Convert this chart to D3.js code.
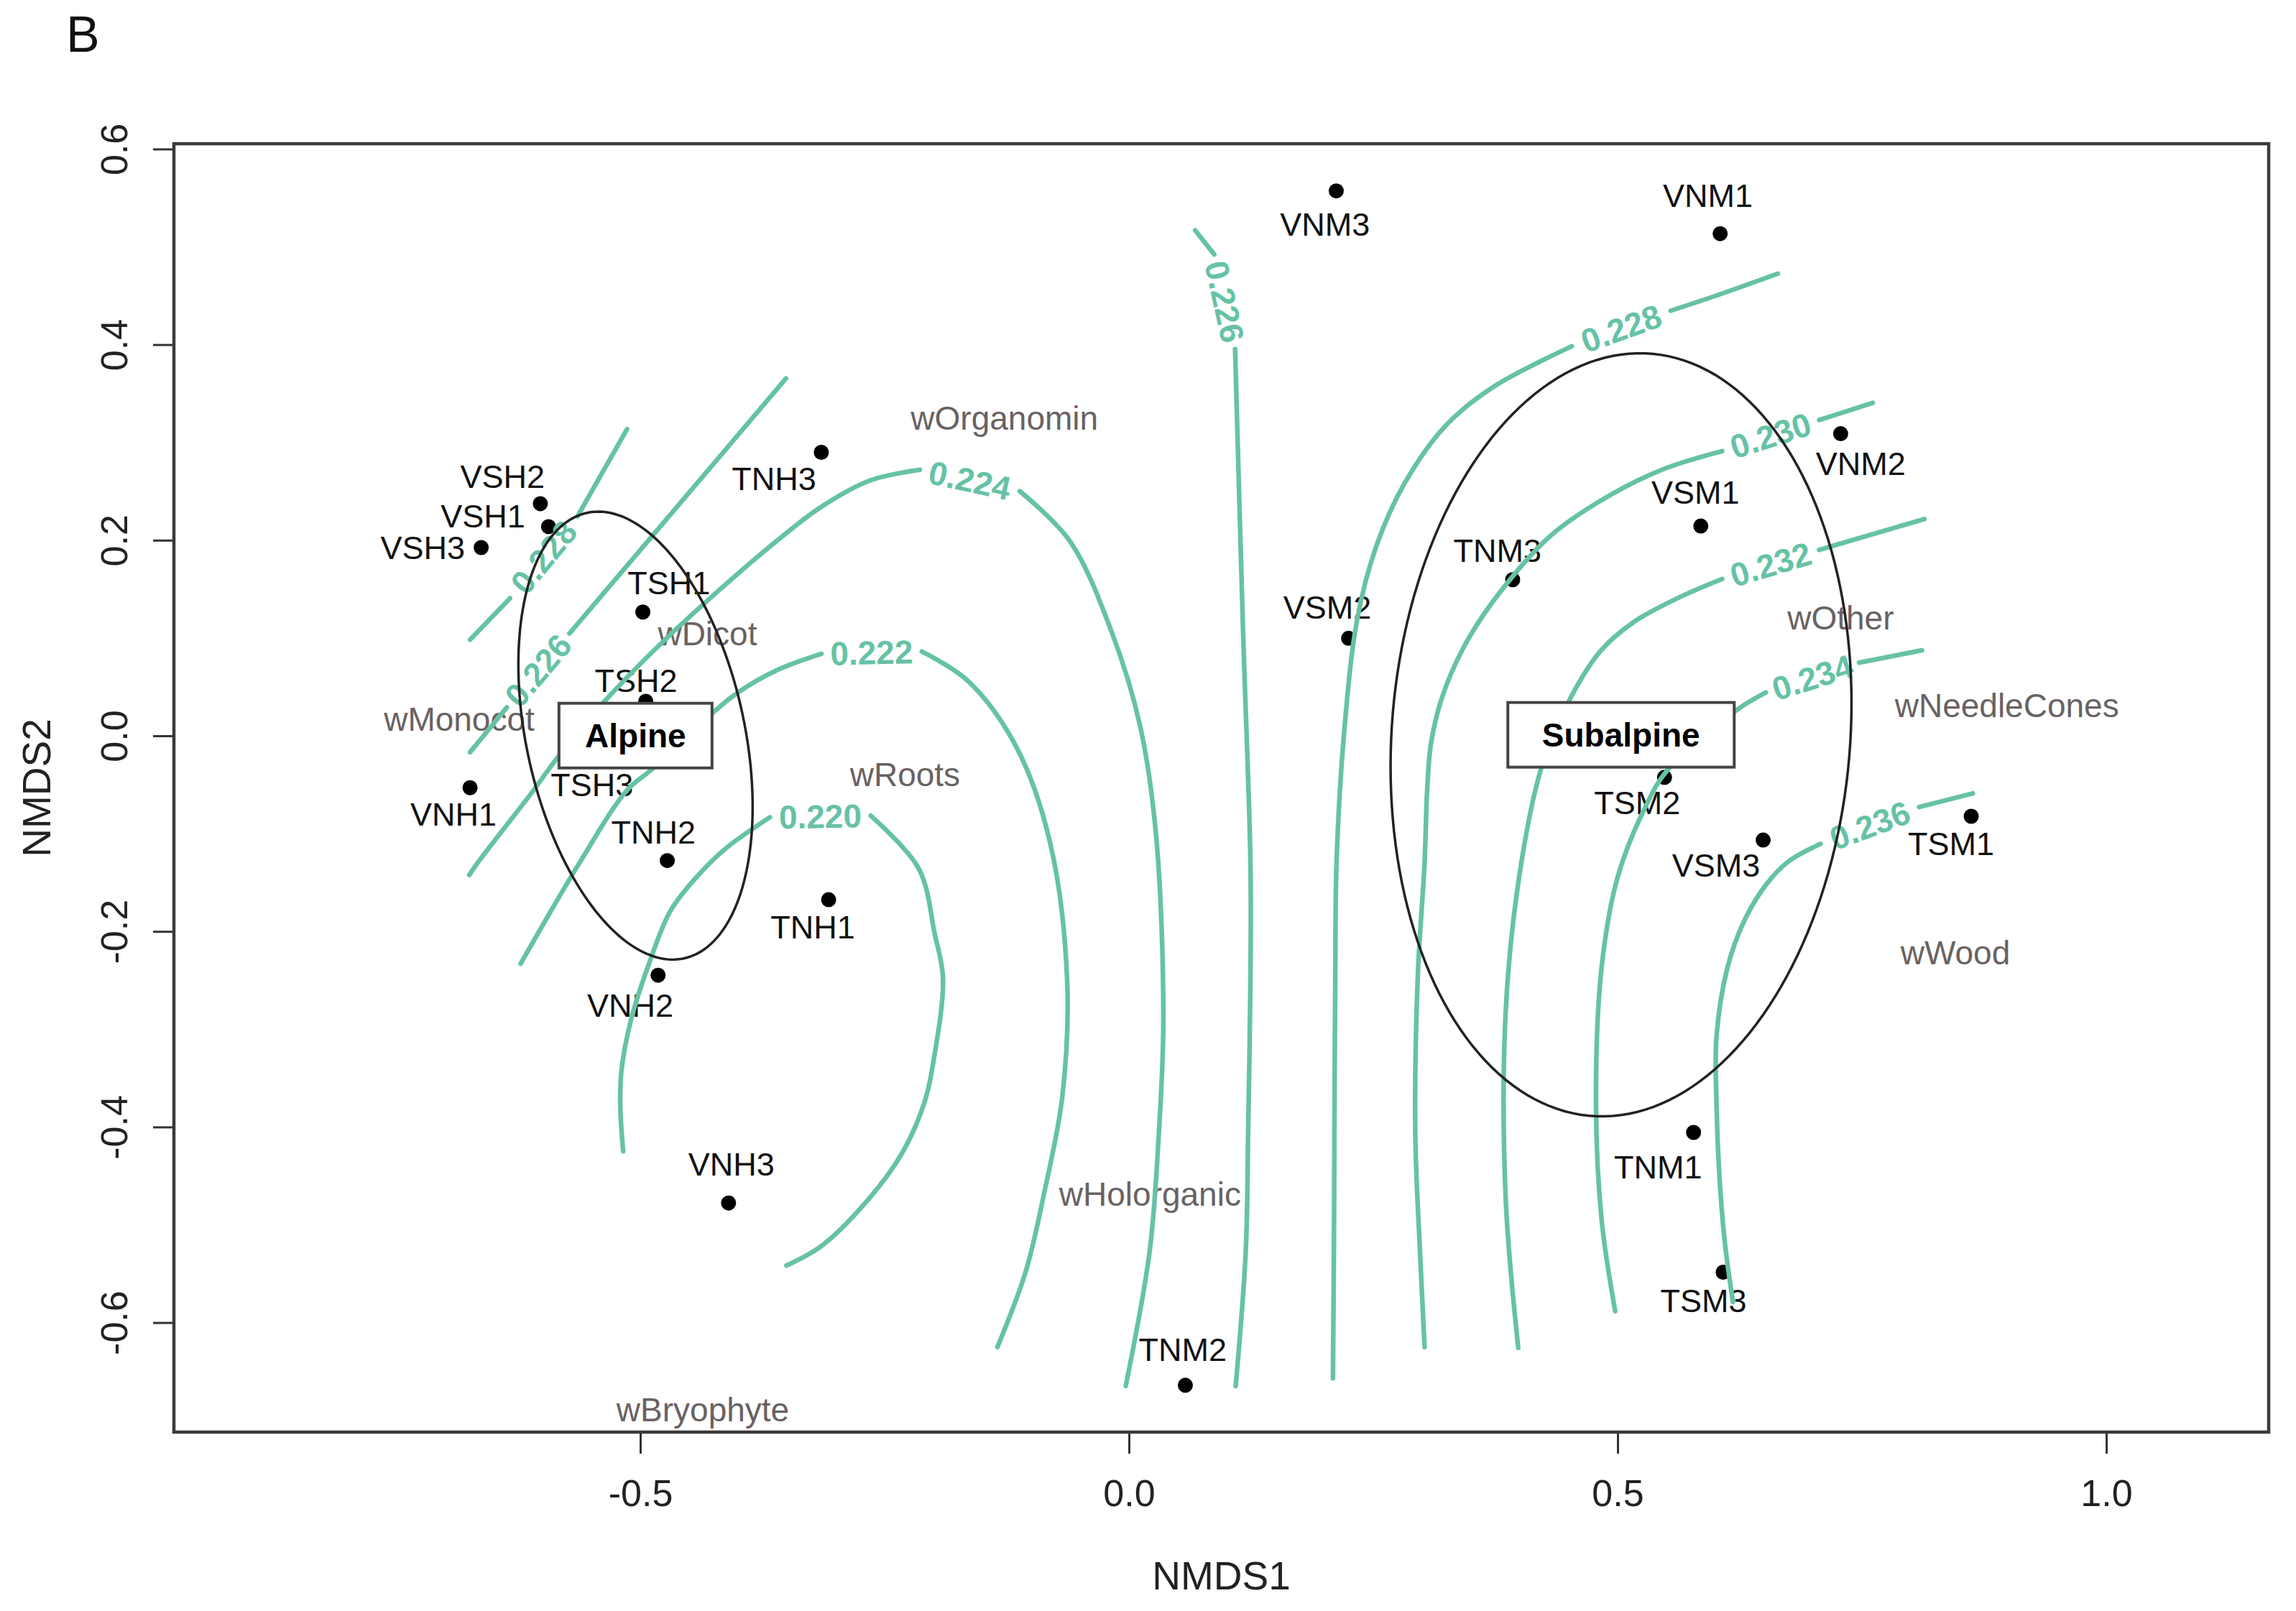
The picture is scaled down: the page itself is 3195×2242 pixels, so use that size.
<!DOCTYPE html>
<html><head><meta charset="utf-8">
<script src="https://cdn.jsdelivr.net/npm/d3@7/dist/d3.min.js"></script>
<style>
html,body{margin:0;padding:0;background:#fff;}
svg{display:block;}
text{font-family:"Liberation Sans", Arial, Helvetica, sans-serif;}
</style>
</head><body>
<svg id="chart" width="3195" height="2242"></svg>
<script>
// ---------------- DATA ----------------
const siteNames = ["VNM3","VNM1","VNM2","VSM1","TNM3","VSM2","TSM2","VSM3","TSM1","TNM1","TSM3","TNM2",
  "VNH3","VNH2","TNH1","TNH2","VNH1","TSH3","TSH2","TSH1","VSH2","VSH1","VSH3","TNH3"];
const siteX = [0.2121,0.6049,0.7282,0.5851,0.3926,0.2247,0.5480,0.6489,0.8618,0.5777,0.6080,0.0577,
  -0.4097,-0.4818,-0.3073,-0.4724,-0.6742,-0.5150,-0.4944,-0.4974,-0.6023,-0.5939,-0.6628,-0.3148];
const siteY = [0.5572,0.5135,0.3089,0.2145,0.1596,0.0997,-0.0425,-0.1066,-0.0823,-0.4056,-0.5485,-0.6641,
  -0.4777,-0.2448,-0.1676,-0.1276,-0.0531,-0.0200,0.0353,0.1266,0.2374,0.2139,0.1925,0.2899];
// label anchor positions (data units) as placed by the point-label routine
const siteLabelX = [0.2006,0.5923,0.7488,0.5796,0.3770,0.2029,0.5200,0.6007,0.8412,0.5413,0.5878,0.0549,
  -0.4067,-0.5103,-0.3235,-0.4866,-0.6911,-0.5495,-0.5044,-0.4707,-0.6410,-0.6611,-0.7226,-0.3632];
const siteLabelY = [0.5227,0.5527,0.2785,0.2490,0.1891,0.1314,-0.0682,-0.1324,-0.1104,-0.4408,-0.5776,-0.6279,
  -0.4384,-0.2760,-0.1959,-0.0989,-0.0799,-0.0504,0.0562,0.1562,0.2653,0.2243,0.1923,0.2628];

const speciesNames = ["wOrganomin","wDicot","wMonocot","wRoots","wHolorganic","wBryophyte","wOther","wNeedleCones","wWood"];
const speciesX = [-0.1274,-0.4313,-0.6853,-0.2291,0.0216,-0.4360,0.7282,0.8983,0.8456];
const speciesY = [0.3251,0.1046,0.0168,-0.0394,-0.4686,-0.6893,0.1204,0.0312,-0.2215];

const groupNames = ["Alpine","Subalpine"];
const groupCenterX = [-0.5049,0.5035];
const groupCenterY = [0.0002,0.0010];
const groupVarX = [0.014365,0.05561];
const groupVarY = [0.05245,0.15222];
const groupCovXY = [-0.008723,0.0076];

const xTicks = [-0.5,0.0,0.5,1.0];
const yTicks = [-0.6,-0.4,-0.2,0.0,0.2,0.4,0.6];

// ordisurf contour pieces [x, y]
const contour220 = [[-0.5175,-0.4249],[-0.5204,-0.3806],[-0.5193,-0.3426],[-0.5099,-0.2920],[-0.4911,-0.2330],[-0.4687,-0.1782],[-0.4386,-0.1402],[-0.4123,-0.1149],[-0.3674,-0.0833],
  [-0.2643,-0.0816],[-0.2150,-0.1360],[-0.1987,-0.2028],[-0.1903,-0.2477],[-0.1993,-0.3285],[-0.2098,-0.3764],[-0.2323,-0.4270],[-0.2661,-0.4734],[-0.3148,-0.5218],[-0.3505,-0.5417]];
const contour222 = [[-0.6224,-0.2330],[-0.5619,-0.1294],[-0.5138,-0.0559],[-0.4888,-0.0348],[-0.4231,0.0259],[-0.4001,0.0443],[-0.3611,0.0667],[-0.3147,0.0838],
  [-0.2120,0.0862],[-0.1648,0.0562],[-0.1154,-0.0111],[-0.0809,-0.1084],[-0.0633,-0.2487],[-0.0681,-0.3682],[-0.0868,-0.4678],[-0.1055,-0.5474],[-0.1346,-0.6251]];
const contour224 = [[-0.6750,-0.1423],[-0.6661,-0.1294],[-0.6094,-0.0559],[-0.5843,-0.0216],[-0.5379,0.0338],[-0.4795,0.0937],[-0.4198,0.1485],[-0.3708,0.1907],[-0.3169,0.2328],[-0.2655,0.2609],[-0.2140,0.2721],
  [-0.1117,0.2501],[-0.0607,0.1994],[-0.0182,0.1076],[0.0114,0.0101],[0.0278,-0.1023],[0.0352,-0.2886],[0.0305,-0.4080],[0.0211,-0.5275],[-0.0033,-0.6649]];
const contour226a = [[-0.6742,-0.0168],[-0.6365,0.0291],[-0.5725,0.1046],[-0.3509,0.3654]];
const contour226b = [[0.0677,0.5169],[0.0873,0.4922],[0.1086,0.3955],[0.1168,0.1058],[0.1243,-0.1294],[0.1243,-0.2487],[0.1219,-0.4080],[0.1195,-0.5275],[0.1092,-0.6649]];
const contour228a = [[-0.6742,0.0982],[-0.6332,0.1407],[-0.5643,0.2244],[-0.5135,0.3136]];
const contour228b = [[0.6640,0.4726],[0.6049,0.4515],[0.5542,0.4346],[0.4532,0.3983],[0.3745,0.3578],[0.3252,0.3184],[0.2827,0.2594],[0.2530,0.1937],[0.2334,0.1184],[0.2202,0.0038],[0.2124,-0.1294],[0.2111,-0.2487],[0.2102,-0.4080],[0.2097,-0.5275],[0.2087,-0.6570]];
const contour230 = [[0.7611,0.3405],[0.7062,0.3229],[0.6070,0.2911],[0.5458,0.2723],[0.4867,0.2428],[0.4317,0.2048],[0.3854,0.1542],[0.3474,0.0994],[0.3221,0.0444],[0.3093,-0.0062],[0.3051,-0.0559],[0.3025,-0.1294],[0.2954,-0.2487],[0.2930,-0.4080],[0.2978,-0.5275],[0.3025,-0.6251]];
const contour232 = [[0.8138,0.2217],[0.7062,0.1901],[0.6070,0.1604],[0.5627,0.1414],[0.5162,0.1161],[0.4824,0.0866],[0.4499,0.0350],[0.4219,-0.0330],[0.3994,-0.1432],[0.3854,-0.2838],[0.3854,-0.4712],[0.3983,-0.6258]];
const contour234 = [[0.8114,0.0874],[0.7470,0.0748],[0.6517,0.0443],[0.6208,0.0256],[0.5507,-0.0354],[0.5284,-0.0728],[0.5004,-0.1432],[0.4836,-0.2369],[0.4779,-0.3775],[0.4836,-0.4947],[0.4975,-0.5883]];
const contour236 = [[0.8635,-0.0589],[0.8086,-0.0728],[0.7077,-0.1104],[0.6740,-0.1291],[0.6517,-0.1525],[0.6292,-0.1900],[0.6124,-0.2369],[0.6012,-0.3073],[0.6012,-0.3775],[0.6040,-0.4477],[0.6097,-0.5181],[0.6180,-0.5790]];

const contourLevels = ["0.220","0.222","0.224","0.226","0.226","0.228","0.228","0.230","0.232","0.234","0.236"];
const contourPieces = [contour220,contour222,contour224,contour226a,contour226b,contour228a,contour228b,contour230,contour232,contour234,contour236];
// number of vertices before the inline label gap
const contourLabelAfter = [9,8,11,2,2,2,3,2,2,2,2];

// ---------------- DRAW ----------------
const W = 3195, H = 2242;
const plotL = 242, plotR = 3157, plotT = 200, plotB = 1993;
const green = "#66c2a5";
const boxWidths = [213, 315];

const x = d3.scaleLinear().domain([-0.97721, 1.16618]).range([plotL, plotR]);
const y = d3.scaleLinear().domain([-0.71197, 0.60544]).range([plotB, plotT]);

const svg = d3.select("#chart");
svg.append("rect").attr("width", W).attr("height", H).attr("fill", "#fff");

// panel letter
svg.append("text").attr("x", 92).attr("y", 72).attr("font-size", 70).attr("fill", "#111").text("B");

// axes
const fmt = d => d.toFixed(1);
const gx = svg.append("g").attr("transform", `translate(0,${plotB})`)
  .call(d3.axisBottom(x).tickValues(xTicks).tickSize(30).tickFormat(fmt));
gx.select(".domain").remove();
gx.selectAll("line").attr("stroke", "#333").attr("stroke-width", 3);
gx.selectAll("text").attr("y", 85).attr("dy", "0.35em")
  .attr("font-size", 52).attr("fill", "#222").attr("font-family", "Liberation Sans, Arial, sans-serif");

const gy = svg.append("g").attr("transform", `translate(${plotL},0)`)
  .call(d3.axisLeft(y).tickValues(yTicks).tickSize(29).tickFormat(fmt));
gy.select(".domain").remove();
gy.selectAll("line").attr("stroke", "#333").attr("stroke-width", 3);
gy.selectAll("text").attr("x", 0).attr("y", 0).attr("dy", "0.35em")
  .attr("text-anchor", "middle")
  .attr("transform", "translate(-83,0) rotate(-90)")
  .attr("font-size", 52).attr("fill", "#222").attr("font-family", "Liberation Sans, Arial, sans-serif");

// axis titles
svg.append("text").attr("x", (plotL + plotR) / 2).attr("y", 2193).attr("dy", "0.35em")
  .attr("text-anchor", "middle").attr("font-size", 55).attr("fill", "#222").text("NMDS1");
svg.append("text").attr("transform", `translate(51,${(plotT + plotB) / 2}) rotate(-90)`)
  .attr("dy", "0.35em").attr("text-anchor", "middle").attr("font-size", 55).attr("fill", "#222").text("NMDS2");

// site points
svg.append("g").selectAll("circle").data(siteNames).join("circle")
  .attr("cx", (d, i) => x(siteX[i])).attr("cy", (d, i) => y(siteY[i]))
  .attr("r", 10.5).attr("fill", "#000");

// site labels
svg.append("g").selectAll("text").data(siteNames).join("text")
  .attr("x", (d, i) => x(siteLabelX[i])).attr("y", (d, i) => y(siteLabelY[i]))
  .attr("dy", "0.35em").attr("text-anchor", "middle")
  .attr("font-size", 45).attr("fill", "#111").text(d => d);

// species labels
svg.append("g").selectAll("text").data(speciesNames).join("text")
  .attr("x", (d, i) => x(speciesX[i])).attr("y", (d, i) => y(speciesY[i]))
  .attr("dy", "0.35em").attr("text-anchor", "middle")
  .attr("font-size", 46).attr("fill", "#696262").text(d => d);

// contours
const line = d3.line().x(p => x(p[0])).y(p => y(p[1])).curve(d3.curveCatmullRom.alpha(0.5));
const gc = svg.append("g");
contourPieces.forEach((pts, i) => {
  const k = contourLabelAfter[i];
  const a = pts.slice(0, k), b = pts.slice(k);
  [a, b].forEach(seg => {
    if (seg.length > 1) {
      gc.append("path").attr("d", line(seg)).attr("fill", "none")
        .attr("stroke", green).attr("stroke-width", 6.5).attr("stroke-linecap", "round").attr("stroke-linejoin", "round");
    }
  });
  const p1 = pts[k - 1], p2 = pts[k];
  const sx1 = x(p1[0]), sy1 = y(p1[1]), sx2 = x(p2[0]), sy2 = y(p2[1]);
  let ang = Math.atan2(sy2 - sy1, sx2 - sx1) * 180 / Math.PI;
  if (ang > 90) ang -= 180;
  if (ang < -90) ang += 180;
  gc.append("text")
    .attr("transform", `translate(${(sx1 + sx2) / 2},${(sy1 + sy2) / 2}) rotate(${ang})`)
    .attr("dy", "0.35em").attr("text-anchor", "middle")
    .attr("font-size", 46).attr("font-weight", "bold").attr("fill", green)
    .text(contourLevels[i]);
});

// frame
svg.append("rect").attr("x", plotL).attr("y", plotT).attr("width", plotR - plotL).attr("height", plotB - plotT)
  .attr("fill", "none").attr("stroke", "#3a3a3a").attr("stroke-width", 4.5);

// ellipses
const ge = svg.append("g");
groupNames.forEach((g, i) => {
  const l11 = Math.sqrt(groupVarX[i]);
  const l21 = groupCovXY[i] / l11;
  const l22 = Math.sqrt(groupVarY[i] - l21 * l21);
  const pts = d3.range(0, 361, 2).map(t => {
    const r = t * Math.PI / 180;
    return [groupCenterX[i] + l11 * Math.cos(r), groupCenterY[i] + l21 * Math.cos(r) + l22 * Math.sin(r)];
  });
  ge.append("path").attr("d", d3.line().x(p => x(p[0])).y(p => y(p[1]))(pts) + "Z")
    .attr("fill", "none").attr("stroke", "#222").attr("stroke-width", 3.5);
});

// group label boxes
groupNames.forEach((g, i) => {
  const cx = x(groupCenterX[i]), cy = y(groupCenterY[i]);
  const grp = svg.append("g");
  const bw = boxWidths[i], bh = 90;
  grp.append("rect").attr("x", cx - bw / 2).attr("y", cy - bh / 2).attr("width", bw).attr("height", bh)
    .attr("fill", "#fff").attr("stroke", "#444").attr("stroke-width", 4);
  grp.append("text").attr("x", cx).attr("y", cy).attr("dy", "0.35em")
    .attr("text-anchor", "middle").attr("font-size", 46).attr("font-weight", "bold").attr("fill", "#000").text(g);
});
</script>
</body></html>
